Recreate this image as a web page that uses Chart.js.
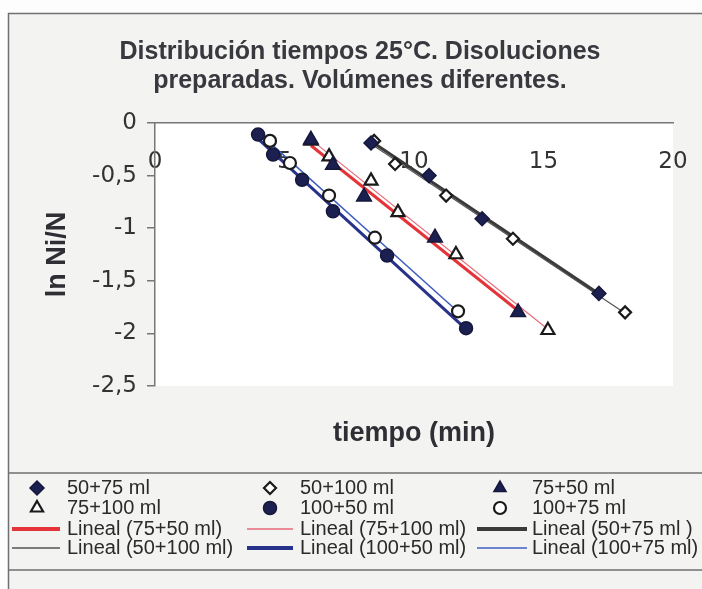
<!DOCTYPE html>
<html>
<head>
<meta charset="utf-8">
<script src="https://cdn.jsdelivr.net/npm/chart.js@4/dist/chart.umd.min.js"></script>
<style>
  html, body { margin: 0; padding: 0; background: #fff; }
  #wrap { width: 702px; height: 589px; }
</style>
</head>
<body>
<div id="wrap"><canvas id="grafico" width="702" height="589"></canvas></div>
<script>
// datos: tiempo (min) y ln Ni/N
const t_50_75 = [8.34, 10.58, 12.63, 17.14];
const ln_50_75 = [-0.19, -0.50, -0.91, -1.62];

const t_50_100 = [8.46, 9.27, 11.24, 13.82, 18.15];
const ln_50_100 = [-0.17, -0.39, -0.69, -1.10, -1.80];

const t_75_50 = [6.02, 6.87, 8.07, 10.81, 14.02];
const ln_75_50 = [-0.16, -0.40, -0.70, -1.09, -1.80];

const t_75_100 = [6.02, 6.72, 8.34, 9.38, 11.62, 15.17];
const ln_75_100 = [-0.17, -0.32, -0.55, -0.85, -1.25, -1.97];

const t_100_50 = [3.98, 4.56, 5.68, 6.87, 8.96, 12.01];
const ln_100_50 = [-0.11, -0.30, -0.54, -0.84, -1.26, -1.95];

const t_100_75 = [4.44, 5.21, 6.72, 8.49, 11.70];
const ln_100_75 = [-0.17, -0.38, -0.69, -1.09, -1.79];

const xTicks = [0, 5, 10, 15, 20];
const yTicks = [0, -0.5, -1, -1.5, -2, -2.5];

const FONT = "'Liberation Sans', Arial, sans-serif";
const NAVY = '#1c2050';

function puntos(xs, ys) {
    return xs.map((x, i) => ({ x: x, y: ys[i] }));
}

// recta de minimos cuadrados (linea de tendencia "Lineal")
function lineal(xs, ys) {
    const n = xs.length;
    const mx = xs.reduce((a, b) => a + b, 0) / n;
    const my = ys.reduce((a, b) => a + b, 0) / n;
    let sxy = 0, sxx = 0;
    xs.forEach((x, i) => { sxy += (x - mx) * (ys[i] - my); sxx += (x - mx) * (x - mx); });
    const m = sxy / sxx, b = my - m * mx;
    const x0 = Math.min(...xs), x1 = Math.max(...xs);
    return [{ x: x0, y: m * x0 + b }, { x: x1, y: m * x1 + b }];
}

function serie(label, xs, ys, style, r, filled) {
    return {
        label: label,
        data: puntos(xs, ys),
        pointStyle: style,
        pointRadius: r,
        pointBorderWidth: filled ? 1.5 : 2.2,
        backgroundColor: filled ? NAVY : '#ffffff',
        borderColor: filled ? '#15183a' : '#1a1a1a',
        showLine: false,
        order: 0
    };
}

function tendencia(label, xs, ys, color, w) {
    return {
        label: label,
        data: lineal(xs, ys),
        showLine: true,
        pointRadius: 0,
        borderColor: color,
        backgroundColor: color,
        borderWidth: w,
        order: 1
    };
}

const datasets = [
    serie('50+75 ml', t_50_75, ln_50_75, 'rectRot', 7, true),
    serie('50+100 ml', t_50_100, ln_50_100, 'rectRot', 6, false),
    serie('75+50 ml', t_75_50, ln_75_50, 'triangle', 8.5, true),
    serie('75+100 ml', t_75_100, ln_75_100, 'triangle', 7.5, false),
    serie('100+50 ml', t_100_50, ln_100_50, 'circle', 6.5, true),
    serie('100+75 ml', t_100_75, ln_100_75, 'circle', 6, false),
    tendencia('Lineal (75+50 ml)', t_75_50, ln_75_50, '#e5333a', 3),
    tendencia('Lineal (75+100 ml)', t_75_100, ln_75_100, '#e66a78', 1.2),
    tendencia('Lineal (50+75 ml )', t_50_75, ln_50_75, '#3a3a3a', 3),
    tendencia('Lineal (50+100 ml)', t_50_100, ln_50_100, '#555555', 1.2),
    tendencia('Lineal (100+50 ml)', t_100_50, ln_100_50, '#27328a', 3),
    tendencia('Lineal (100+75 ml)', t_100_75, ln_100_75, '#3f5fc0', 1.5)
];

// fondo, marco, titulo y leyenda al estilo Excel
const marco = {
    id: 'marco',
    beforeDraw(chart) {
        const ctx = chart.ctx, a = chart.chartArea;
        ctx.save();
        ctx.fillStyle = '#fdfdfd';
        ctx.fillRect(0, 0, chart.width, chart.height);
        ctx.fillStyle = '#f3f3f1';
        ctx.fillRect(8, 13, chart.width - 8, chart.height - 13);
        ctx.fillStyle = '#ffffff';
        ctx.fillRect(a.left, a.top, a.right - a.left, a.bottom - a.top);

        ctx.strokeStyle = '#707070';
        ctx.lineWidth = 1.5;
        ctx.beginPath();
        ctx.moveTo(8.5, chart.height);
        ctx.lineTo(8.5, 13.5);
        ctx.lineTo(chart.width, 13.5);
        ctx.moveTo(8.5, 473);
        ctx.lineTo(chart.width, 473);
        ctx.moveTo(8.5, 570);
        ctx.lineTo(chart.width, 570);
        ctx.stroke();

        ctx.fillStyle = '#38383f';
        ctx.font = 'bold 25px ' + FONT;
        ctx.textAlign = 'center';
        ctx.textBaseline = 'middle';
        ctx.fillText('Distribución tiempos 25°C. Disoluciones', 360, 52);
        ctx.fillText('preparadas. Volúmenes diferentes.', 360, 81);
        ctx.restore();
    },
    afterDraw(chart) {
        const ctx = chart.ctx;
        const symX = [37, 270, 500];
        const textX = [67, 300, 532];
        const lineX = [[12, 60], [247, 293], [477, 527]];
        const rowY = [488, 508, 529, 548];
        ctx.save();
        ctx.font = '20px ' + FONT;
        ctx.textBaseline = 'middle';
        ctx.textAlign = 'left';
        chart.data.datasets.forEach((ds, i) => {
            const col = i % 3, row = Math.floor(i / 3);
            const y = rowY[row];
            if (ds.showLine) {
                ctx.strokeStyle = ds.borderColor;
                ctx.lineWidth = ds.borderWidth > 2 ? 4 : 1.5;
                ctx.beginPath();
                ctx.moveTo(lineX[col][0], y);
                ctx.lineTo(lineX[col][1], y);
                ctx.stroke();
            } else {
                ctx.fillStyle = ds.backgroundColor;
                ctx.strokeStyle = ds.borderColor;
                ctx.lineWidth = ds.pointBorderWidth;
                Chart.helpers.drawPoint(ctx, {
                    pointStyle: ds.pointStyle,
                    radius: Math.min(ds.pointRadius, 7),
                    rotation: 0,
                    borderWidth: ds.pointBorderWidth
                }, symX[col], y);
            }
            ctx.fillStyle = '#2a2a2a';
            ctx.fillText(ds.label, textX[col], y);
        });
        ctx.restore();
    }
};

const tickFont = { family: "'DejaVu Sans', sans-serif", size: 23 };
const axisTitleFont = { family: FONT, size: 27, weight: 'bold' };

new Chart(document.getElementById('grafico'), {
    type: 'scatter',
    data: { datasets: datasets },
    options: {
        responsive: false,
        animation: false,
        devicePixelRatio: 1,
        layout: { padding: { top: 123, right: 29, bottom: 116, left: 0 } },
        plugins: {
            legend: { display: false },
            tooltip: { enabled: false }
        },
        scales: {
            x: {
                type: 'linear',
                position: { y: 0 },
                min: xTicks[0],
                max: xTicks[xTicks.length - 1],
                afterBuildTicks(s) { s.ticks = xTicks.map(v => ({ value: v })); },
                afterFit(s) { s.paddingLeft = 0; s.paddingRight = 0; },
                ticks: { padding: 25, color: '#333', font: tickFont },
                grid: { drawOnChartArea: false, drawTicks: false },
                border: { color: '#777', width: 1.5 }
            },
            x2: {
                type: 'linear',
                axis: 'x',
                position: 'bottom',
                ticks: { display: false },
                grid: { display: false, drawTicks: false },
                border: { display: false },
                title: {
                    display: true, text: 'tiempo (min)', color: '#2e2e34',
                    font: axisTitleFont, padding: { top: 0, bottom: 23 }
                },
                afterFit(s) { s.height = 87; s.paddingLeft = 0; s.paddingRight = 0; }
            },
            y: {
                type: 'linear',
                min: yTicks[yTicks.length - 1],
                max: yTicks[0],
                afterBuildTicks(s) { s.ticks = yTicks.map(v => ({ value: v })); },
                ticks: {
                    padding: 10, color: '#333', font: tickFont,
                    callback: v => String(v).replace('.', ',')
                },
                grid: { drawOnChartArea: false, tickLength: 8, color: '#777', lineWidth: 1.5 },
                border: { color: '#777', width: 1.5 },
                title: {
                    display: true, text: 'ln Ni/N', color: '#2e2e34',
                    font: axisTitleFont, padding: { top: 41, bottom: 0 }
                },
                afterFit(s) { s.width = 155; }
            }
        }
    },
    plugins: [marco]
});
</script>
</body>
</html>
